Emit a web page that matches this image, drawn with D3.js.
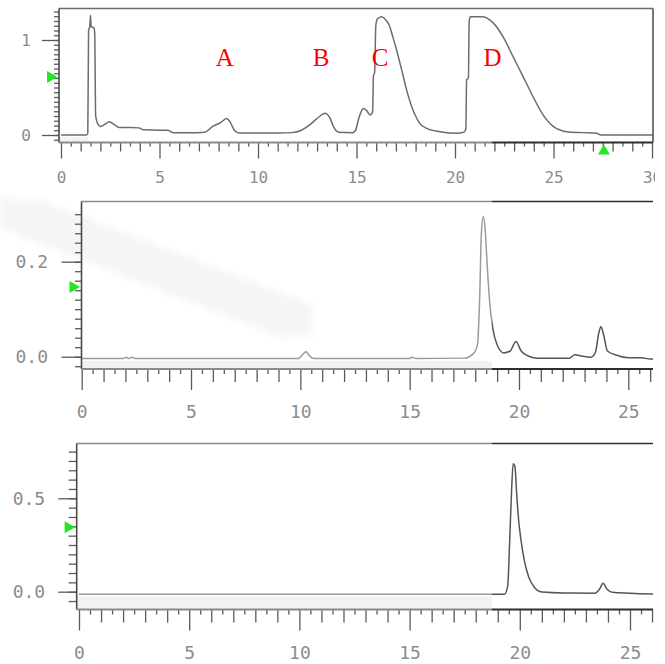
<!DOCTYPE html>
<html>
<head>
<meta charset="utf-8">
<script src="https://cdn.jsdelivr.net/npm/d3@7"></script>
<style>
  html, body { margin: 0; padding: 0; background: #fff; }
  svg { display: block; }
</style>
</head>
<body>
<svg id="chart" width="665" height="664"></svg>
<script>
// Upper trace: retention time (min) and detector response
const topTime = [0, 1.30, 1.36, 1.40, 1.46, 1.50, 1.53, 1.66, 1.71, 1.76, 1.86, 2.0, 2.2, 2.45, 2.7, 2.95,
  3.5, 3.95, 4.2, 5.0, 5.4, 5.7, 6.9, 7.3, 7.7, 8.1, 8.41, 8.6, 8.8, 9.05, 10.0, 11.0, 11.75, 12.2,
  12.7, 13.15, 13.4, 13.65, 13.85, 14.1, 14.8, 14.95, 15.15, 15.35, 15.5, 15.7, 15.82, 15.86, 15.92,
  15.98, 16.06, 16.28, 16.45, 16.65, 16.85, 17.04, 17.3, 17.55, 17.8, 18.0, 18.22, 18.56, 19.24,
  20.09, 20.45, 20.55, 20.59, 20.68, 20.72, 20.78, 21.42, 21.7, 21.94, 22.45, 22.96, 23.47, 23.97,
  24.48, 24.99, 25.67, 26.5, 27.19, 27.4, 30.1];
const topSignal = [0, 0, 0.02, 1.10, 1.14, 1.26, 1.14, 1.13, 1.08, 0.20, 0.12, 0.09, 0.11, 0.14, 0.11, 0.08,
  0.08, 0.075, 0.055, 0.05, 0.05, 0.025, 0.025, 0.03, 0.09, 0.13, 0.175, 0.13, 0.05, 0.02, 0.02, 0.02, 0.025, 0.05,
  0.12, 0.20, 0.23, 0.18, 0.08, 0.03, 0.025, 0.05, 0.20, 0.28, 0.26, 0.21, 0.25, 0.62, 0.66,
  1.15, 1.22, 1.245, 1.22, 1.16, 1.03, 0.89, 0.68, 0.47, 0.30, 0.20, 0.12, 0.07, 0.035,
  0.018, 0.03, 0.06, 0.58, 0.60, 1.20, 1.245, 1.245, 1.22, 1.18, 1.03, 0.82, 0.61, 0.40,
  0.21, 0.09, 0.035, 0.025, 0.018, 0.0, 0.0];

// Middle trace
const midTime = [0, 1.9, 2.05, 2.15, 2.3, 2.45, 9.9, 10.1, 10.25, 10.4, 10.6, 15.0, 15.1, 15.3, 17.5, 17.9,
  18.1, 18.2, 18.28, 18.37, 18.45, 18.55, 18.65, 18.8, 19.0, 19.3, 19.6, 19.86, 20.1, 20.4, 20.8, 22.3,
  22.55, 22.8, 23.3, 23.5, 23.65, 23.75, 23.85, 24.05, 24.4, 25.0, 25.6, 26.0, 26.6];
const midSignal = [-0.004, -0.004, -0.001, -0.004, -0.001, -0.004, -0.004, 0.004, 0.0105, 0.003, -0.004, -0.004, -0.001, -0.004, -0.003, 0.006,
  0.025, 0.12, 0.26, 0.295, 0.27, 0.19, 0.12, 0.06, 0.025, 0.008, 0.012, 0.032, 0.012, 0.002, -0.003, -0.003,
  0.004, 0.002, -0.001, 0.01, 0.05, 0.063, 0.05, 0.012, 0.004, -0.002, -0.002, -0.005, -0.005];

// Lower trace
const lowTime = [0, 19.3, 19.45, 19.55, 19.63, 19.70, 19.78, 19.86, 19.95, 20.05, 20.2, 20.4, 20.65, 21.0,
  22.0, 23.4, 23.6, 23.78, 23.95, 24.2, 25.0, 26.5];
const lowSignal = [-0.014, -0.014, 0.03, 0.30, 0.55, 0.685, 0.67, 0.52, 0.38, 0.28, 0.17, 0.08, 0.025, -0.002,
  -0.007, -0.008, 0.01, 0.045, 0.015, -0.003, -0.008, -0.014];

// Peak names on the upper trace
const peakNames = ["A", "B", "C", "D"];
const peakTimes = [8.31, 13.2, 16.2, 21.9];
const peakLabelLevel = 0.73;

// Tick labels
const topXTicks = [0, 5, 10, 15, 20, 25, 30];
const topYTicks = [0, 1];
const midXTicks = [0, 5, 10, 15, 20, 25];
const midYTicks = [0.0, 0.2];
const lowXTicks = [0, 5, 10, 15, 20, 25];
const lowYTicks = [0.0, 0.5];

// Threshold markers (level per trace) and the time marker on the upper axis
const levelMarkers = [0.61, 0.147, 0.345];
const timeMarker = 27.56;

const svg = d3.select("#chart");
const splitX = 492;          // the axes turn darker right of this point
const edgeX = 655;           // the printout ends here
const defs = svg.append("defs");

function splitGradient(id, light, dark) {
  const g = defs.append("linearGradient").attr("id", id)
    .attr("gradientUnits", "userSpaceOnUse")
    .attr("x1", 0).attr("x2", 665).attr("y1", 0).attr("y2", 0);
  const f = splitX / 665;
  g.append("stop").attr("offset", f).attr("stop-color", light);
  g.append("stop").attr("offset", f).attr("stop-color", dark);
  return `url(#${id})`;
}
const axisStroke = splitGradient("axisSplit", "#8a8a8a", "#2e2e2e");
const traceStroke = splitGradient("traceSplit", "#9a9a9a", "#555");

defs.append("clipPath").attr("id", "page").append("rect")
  .attr("x", 0).attr("y", 0).attr("width", edgeX).attr("height", 664);
defs.append("filter").attr("id", "soft")
  .attr("x", "-10%").attr("y", "-10%").attr("width", "120%").attr("height", "120%")
  .append("feGaussianBlur").attr("stdDeviation", 3);
const root = svg.append("g").attr("clip-path", "url(#page)");

// faint background watermark band
root.append("path")
  .attr("d", "M0,198 L40,200 L312,305 L312,335 L282,338 L0,228 Z")
  .attr("fill", "#f5f5f5")
  .attr("filter", "url(#soft)");

const panels = [
  {
    time: topTime, signal: topSignal, xTicks: topXTicks, yTicks: topYTicks, fmt: d3.format("d"),
    frame: { l: 59, t: 8.5, r: 653, b: 142.5 }, rightEdge: true,
    xDom: [0, 30], xRange: [61, 652], yDom: [0, 1], yRange: [135, 40],
    minorY: d3.range(-0.05, 1.31, 0.05), xMax: 30,
    font: 16, yTick: 17, yMinor: 5, yPad: 11, xTick: [16, 9, 4], xLabelY: 34.8,
    stroke: "#6c6c6c", topStroke: "#6a6a6a", band: [59, 88], marker: levelMarkers[0]
  },
  {
    time: midTime, signal: midSignal, xTicks: midXTicks, yTicks: midYTicks, fmt: d3.format(".1f"),
    frame: { l: 81.5, t: 201.5, r: 653, b: 369 }, rightEdge: false,
    xDom: [0, 25], xRange: [81.7, 628.3], yDom: [0, 0.2], yRange: [356.7, 261.7],
    minorY: d3.range(-0.02, 0.301, 0.02), xMax: 26.1,
    font: 18, yTick: 20, yMinor: 6.5, yPad: 13.5, xTick: [21, 13, 5], xLabelY: 42.7,
    stroke: traceStroke, topStroke: axisStroke, band: [81.5, splitX], marker: levelMarkers[1]
  },
  {
    time: lowTime, signal: lowSignal, xTicks: lowXTicks, yTicks: lowYTicks, fmt: d3.format(".1f"),
    frame: { l: 76.7, t: 443.5, r: 653, b: 609.5 }, rightEdge: false,
    xDom: [0, 25], xRange: [79, 630], yDom: [0, 0.5], yRange: [591.7, 498.3],
    minorY: d3.range(-0.05, 0.751, 0.05), xMax: 26.0,
    font: 18, yTick: 18.5, yMinor: 8, yPad: 13, xTick: [21, 13, 5], xLabelY: 43.2,
    stroke: traceStroke, topStroke: axisStroke, band: [76.7, splitX], marker: levelMarkers[2]
  }
];

const labelColor = "#8c8c8c";
const tickColor = "#5a5a5a";
const fontFamily = "'DejaVu Sans Mono', 'Liberation Mono', monospace";

panels.forEach((p, i) => {
  const x = d3.scaleLinear().domain(p.xDom).range(p.xRange);
  const y = d3.scaleLinear().domain(p.yDom).range(p.yRange);
  const g = root.append("g");
  const f = p.frame;

  // light band between the baseline and the time axis
  const baseY = y(d3.min(p.signal)) + 2;
  g.append("rect")
    .attr("x", p.band[0]).attr("y", baseY)
    .attr("width", p.band[1] - p.band[0]).attr("height", Math.max(0, f.b - baseY))
    .attr("fill", "#f2f2f2");

  // trace
  const clipId = "clip" + i;
  defs.append("clipPath").attr("id", clipId).append("rect")
    .attr("x", f.l).attr("y", f.t).attr("width", f.r - f.l).attr("height", f.b - f.t);
  const pts = p.time.map((t, k) => [t, p.signal[k]]);
  const line = d3.line().x(d => x(d[0])).y(d => y(d[1])).curve(d3.curveMonotoneX);
  g.append("path").datum(pts)
    .attr("d", line)
    .attr("fill", "none")
    .attr("stroke", p.stroke)
    .attr("stroke-width", 1.5)
    .attr("stroke-linejoin", "round")
    .attr("clip-path", `url(#${clipId})`);

  // y axis: minor ticks, then labelled ticks
  const yMinorAxis = d3.axisLeft(y).tickValues(p.minorY).tickSize(p.yMinor).tickFormat("");
  const gyMinor = g.append("g").attr("transform", `translate(${f.l},0)`).call(yMinorAxis);
  gyMinor.select(".domain").remove();
  gyMinor.selectAll("line").attr("stroke", tickColor).attr("stroke-width", 1.3);

  const yAxis = d3.axisLeft(y).tickValues(p.yTicks).tickSize(p.yTick).tickPadding(p.yPad).tickFormat(p.fmt);
  const gy = g.append("g").attr("transform", `translate(${f.l},0)`).call(yAxis);
  gy.select(".domain").remove();
  gy.selectAll("line").attr("stroke", tickColor).attr("stroke-width", 1.3);
  gy.selectAll("text").attr("fill", labelColor).attr("font-family", fontFamily).attr("font-size", p.font);

  // x axis: half-unit, unit and five-unit ticks
  const halves = d3.range(0, p.xMax + 0.01, 0.5).filter(v => v % 1 !== 0);
  const units = d3.range(0, p.xMax + 0.01, 1).filter(v => v % 5 !== 0);
  [[halves, p.xTick[2]], [units, p.xTick[1]]].forEach(([vals, len]) => {
    const ax = g.append("g").attr("transform", `translate(0,${f.b})`)
      .call(d3.axisBottom(x).tickValues(vals).tickSize(len).tickFormat(""));
    ax.select(".domain").remove();
    ax.selectAll("line").attr("stroke", tickColor).attr("stroke-width", 1.3);
  });
  const gx = g.append("g").attr("transform", `translate(0,${f.b})`)
    .call(d3.axisBottom(x).tickValues(p.xTicks).tickSize(p.xTick[0]).tickFormat(d3.format("d")));
  gx.select(".domain").remove();
  gx.selectAll("line").attr("stroke", tickColor).attr("stroke-width", 1.3);
  gx.selectAll("text")
    .attr("y", p.xLabelY).attr("dy", "0.35em")
    .attr("fill", labelColor).attr("font-family", fontFamily).attr("font-size", p.font);

  // frame
  g.append("line").attr("x1", f.l).attr("x2", f.r).attr("y1", f.t).attr("y2", f.t)
    .attr("stroke", p.topStroke).attr("stroke-width", 1.6);
  g.append("line").attr("x1", f.l).attr("x2", f.l).attr("y1", f.t).attr("y2", f.b)
    .attr("stroke", "#4a4a4a").attr("stroke-width", 1.6);
  g.append("line").attr("x1", f.l).attr("x2", f.r).attr("y1", f.b).attr("y2", f.b)
    .attr("stroke", axisStroke).attr("stroke-width", 2);
  if (p.rightEdge) {
    g.append("line").attr("x1", f.r).attr("x2", f.r).attr("y1", f.t).attr("y2", f.b)
      .attr("stroke", "#555").attr("stroke-width", 1.6);
  }

  // level marker on the response axis
  const my = y(p.marker);
  g.append("path")
    .attr("d", `M${f.l - 12},${my - 6}L${f.l - 12},${my + 6}L${f.l - 1.5},${my}Z`)
    .attr("fill", "#22e622");

  if (i === 0) {
    // time marker on the upper axis
    const mx = x(timeMarker);
    g.append("path")
      .attr("d", `M${mx - 6},${f.b + 12}L${mx + 6},${f.b + 12}L${mx},${f.b + 2}Z`)
      .attr("fill", "#22e622");

    // peak names
    g.selectAll(".peak").data(peakNames).join("text")
      .attr("class", "peak")
      .attr("x", (d, k) => x(peakTimes[k]))
      .attr("y", y(peakLabelLevel))
      .attr("text-anchor", "middle")
      .attr("fill", "#ff0000")
      .attr("font-family", "'Liberation Serif', 'Times New Roman', serif")
      .attr("font-size", 25)
      .text(d => d);
  }
});
</script>
</body>
</html>
